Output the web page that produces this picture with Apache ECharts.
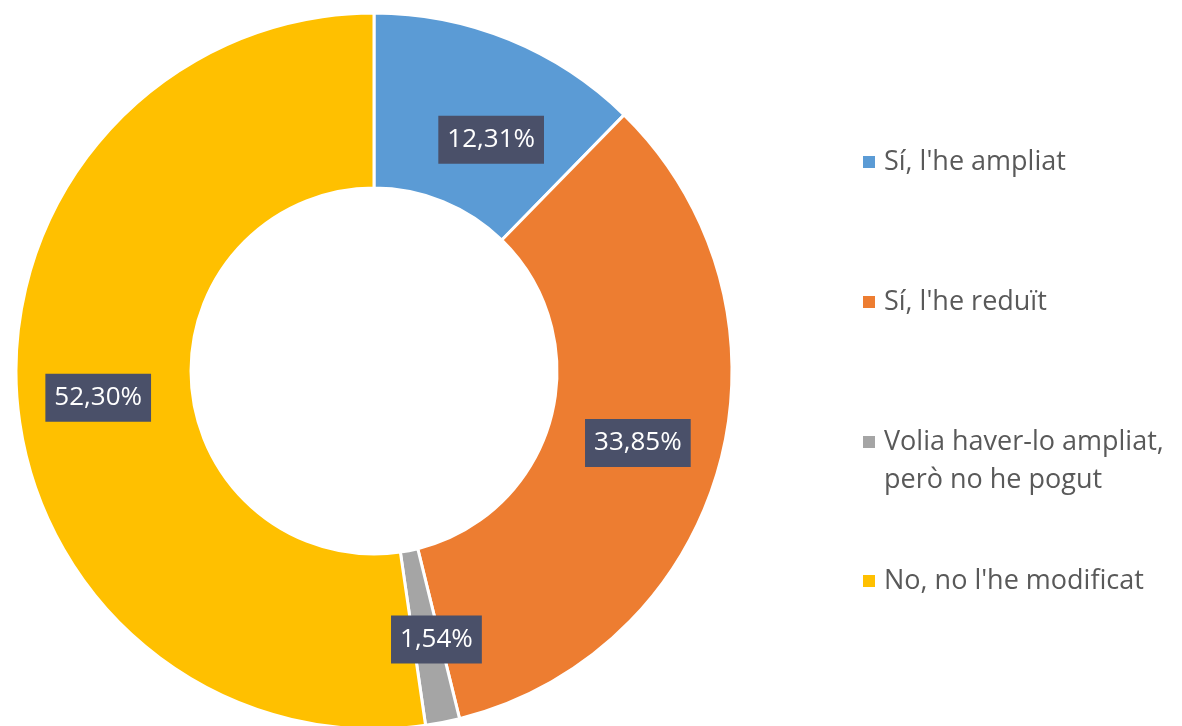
<!DOCTYPE html>
<html lang="ca">
<head>
    <meta charset="UTF-8">
    <title>Donut</title>
    <script src="https://cdn.jsdelivr.net/npm/echarts@6/dist/echarts.min.js"></script>
    <style>
        html, body { margin: 0; padding: 0; background: #fff; }
        #main { width: 1182px; height: 726px; }
    </style>
</head>
<body>
<div id="main"></div>
<script>
    const categories = ["Sí, l'he ampliat", "Sí, l'he reduït", "Volia haver-lo ampliat,\nperò no he pogut", "No, no l'he modificat"];
    const values = [12.31, 33.85, 1.54, 52.30];
    const colors = ['#5B9BD5', '#ED7D31', '#A5A5A5', '#FFC000'];
    const legendTops = [138, 278, 380, 557];

    let myChart = echarts.init(document.getElementById('main'));
    const font = '"Open Sans", Lato, sans-serif';

    let legends = categories.map((c, i) => ({
        orient: 'vertical',
        left: 856,
        top: legendTops[i],
        icon: 'rect',
        itemWidth: 14,
        itemHeight: 14,
        itemGap: 10,
        selectedMode: false,
        data: [c],
        formatter: name => name.indexOf('\n') >= 0 ? '\n' + name : name,
        textStyle: { fontFamily: font, fontSize: 27, color: '#595959', lineHeight: 38, padding: [0, 0, 0, 3] }
    }));

    let option = {
        animation: false,
        color: colors,
        legend: legends,
        series: [{
            type: 'pie',
            center: [374, 371],
            radius: [183, 358],
            startAngle: 90,
            clockwise: true,
            avoidLabelOverlap: false,
            itemStyle: { borderColor: '#fff', borderWidth: 3 },
            label: {
                show: true,
                position: 'inside',
                formatter: p => p.value.toFixed(2).replace('.', ',') + '%',
                fontFamily: font,
                fontSize: 26,
                color: '#fff',
                backgroundColor: '#4A5069',
                padding: [12, 9, 10, 9]
            },
            // nudge labels the way the original places them
            labelLayout: p => {
                if (p.dataIndex === 0) return { dx: 14, dy: 22 };
                if (p.dataIndex === 2) return { dx: 10 };
                if (p.dataIndex === 3) return { dx: -3, dy: 7 };
                return {};
            },
            labelLine: { show: false },
            emphasis: { disabled: true },
            data: categories.map((c, i) => ({ name: c, value: values[i] }))
        }]
    };
    myChart.setOption(option);
</script>
</body>
</html>
